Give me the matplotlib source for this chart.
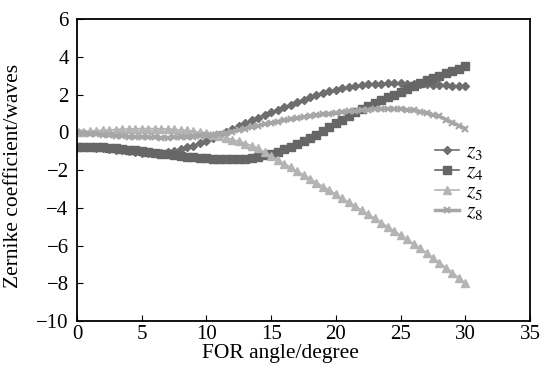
import matplotlib
matplotlib.use("Agg")
import matplotlib.pyplot as plt
import numpy as np


# FOR angle, 0 to 30 degrees in 0.5 steps
angle = [i * 0.5 for i in range(61)]

z3 = [-0.78, -0.79, -0.80, -0.82, -0.85, -0.88, -0.92, -0.96, -1.00, -1.04,
      -1.07, -1.09, -1.10, -1.08, -1.04, -0.98, -0.90, -0.80, -0.70, -0.58,
      -0.45, -0.31, -0.16, 0.00, 0.16, 0.32, 0.48, 0.63, 0.78, 0.93,
      1.07, 1.21, 1.34, 1.47, 1.60, 1.74, 1.87, 1.98, 2.08, 2.17,
      2.25, 2.33, 2.39, 2.45, 2.50, 2.54, 2.57, 2.59, 2.60, 2.60,
      2.60, 2.59, 2.58, 2.56, 2.55, 2.53, 2.51, 2.49, 2.48, 2.46, 2.45]

z4 = [-0.80, -0.79, -0.78, -0.78, -0.79, -0.81, -0.84, -0.87, -0.91, -0.95,
      -0.99, -1.03, -1.08, -1.12, -1.17, -1.21, -1.25, -1.29, -1.32, -1.35,
      -1.37, -1.39, -1.40, -1.41, -1.42, -1.41, -1.40, -1.36, -1.30, -1.22,
      -1.12, -1.02, -0.90, -0.77, -0.62, -0.46, -0.30, -0.12, 0.08, 0.28,
      0.48, 0.68, 0.88, 1.06, 1.24, 1.40, 1.55, 1.70, 1.85, 2.00,
      2.15, 2.30, 2.45, 2.60, 2.75, 2.88, 3.00, 3.13, 3.25, 3.38, 3.50]

z5 = [0.00, 0.03, 0.06, 0.09, 0.11, 0.13, 0.15, 0.17, 0.18, 0.19,
      0.20, 0.20, 0.20, 0.19, 0.18, 0.16, 0.13, 0.10, 0.06, 0.01,
      -0.05, -0.12, -0.20, -0.29, -0.38, -0.48, -0.59, -0.70, -0.85, -1.05,
      -1.25, -1.45, -1.65, -1.85, -2.05, -2.25, -2.45, -2.66, -2.87, -3.07,
      -3.28, -3.49, -3.70, -3.91, -4.13, -4.34, -4.56, -4.78, -5.00, -5.22,
      -5.45, -5.67, -5.90, -6.14, -6.38, -6.64, -6.90, -7.17, -7.44, -7.72, -8.00]

z8 = [0.00, -0.04, -0.07, -0.10, -0.13, -0.16, -0.18, -0.20, -0.22, -0.24,
      -0.25, -0.26, -0.27, -0.28, -0.28, -0.27, -0.26, -0.24, -0.22, -0.19,
      -0.16, -0.12, -0.08, -0.02, 0.04, 0.12, 0.20, 0.28, 0.36, 0.43,
      0.50, 0.57, 0.63, 0.69, 0.74, 0.80, 0.85, 0.90, 0.95, 1.00,
      1.04, 1.08, 1.12, 1.15, 1.18, 1.21, 1.23, 1.24, 1.25, 1.24,
      1.23, 1.20, 1.16, 1.10, 1.02, 0.93, 0.85, 0.68, 0.52, 0.36, 0.20]

labels = ["$z_3$", "$z_4$", "$z_5$", "$z_8$"]

plt.rcParams["font.family"] = ["Liberation Serif", "DejaVu Serif"]
plt.rcParams["mathtext.fontset"] = "stix"

fig = plt.figure(figsize=(5.42, 3.69), dpi=100)
ax = fig.add_axes([0.142, 0.130, 0.836, 0.818])

ax.plot(angle, z3, "-D", color="#6e6e6e", ms=4, lw=1.2, label=labels[0])
ax.plot(angle, z4, "-s", color="#666666", ms=5.5, lw=1.2, label=labels[1])
ax.plot(angle, z5, "-^", color="#b4b4b4", ms=5.5, lw=1.2, label=labels[2])
ax.plot(angle, z8, "-x", color="#a6a6a6", ms=5, mew=1.6, lw=2.5, label=labels[3])

ax.set_xlim(0, 35)
ax.set_ylim(-10, 6)
ax.set_xticks(range(0, 36, 5))
ax.set_yticks(range(-10, 7, 2))
ax.tick_params(direction="in", length=4, labelsize=15, top=False, right=False)
ax.tick_params(axis="y", pad=6)
ax.tick_params(axis="x", pad=3)
for s in ax.spines.values():
    s.set_linewidth(1.3)

ax.set_xlabel("FOR angle/degree", fontsize=15.5)
ax.set_ylabel("Zernike coefficient/waves", fontsize=15.5)
ax.xaxis.set_label_coords(0.448, -0.075)
ax.yaxis.set_label_coords(-0.118, 0.48)

ax.legend(loc="center left", bbox_to_anchor=(0.79, 0.46), frameon=False,
          fontsize=15.5, handlelength=1.1, handletextpad=0.35, labelspacing=0.0,
          borderaxespad=0, borderpad=0)

fig.savefig("out.png", dpi=100)
